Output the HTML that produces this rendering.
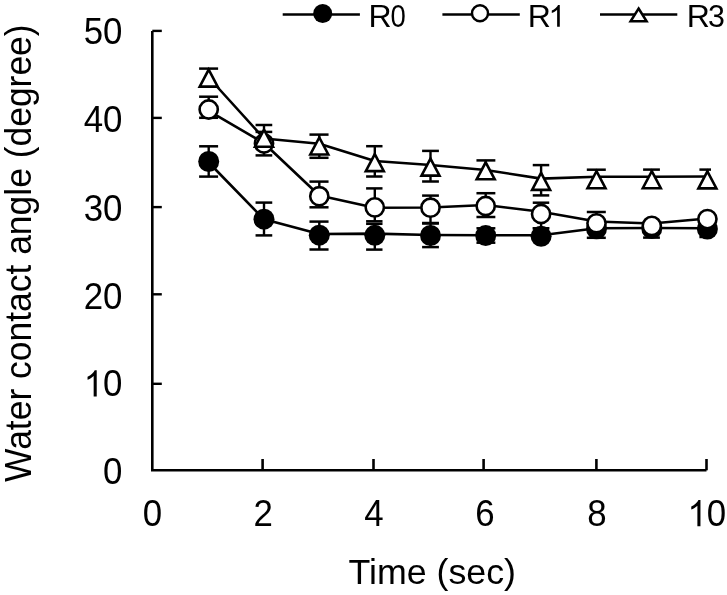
<!DOCTYPE html>
<html><head><meta charset="utf-8"><style>
html,body{margin:0;padding:0;background:#fff;width:727px;height:595px;overflow:hidden}
svg{display:block;will-change:transform}
text{font-family:"Liberation Sans",sans-serif;fill:#000}
</style></head><body>
<svg width="727" height="595" viewBox="0 0 727 595">
<g>
<text transform="translate(83.74 44.4) scale(0.9550 1)" font-size="36.5">5</text>
<text transform="translate(103.12 44.4) scale(0.9550 1)" font-size="36.5">0</text>
<text transform="translate(83.74 132.2) scale(0.9550 1)" font-size="36.5">4</text>
<text transform="translate(103.12 132.2) scale(0.9550 1)" font-size="36.5">0</text>
<text transform="translate(83.74 220.6) scale(0.9550 1)" font-size="36.5">3</text>
<text transform="translate(103.12 220.6) scale(0.9550 1)" font-size="36.5">0</text>
<text transform="translate(83.74 308.5) scale(0.9550 1)" font-size="36.5">2</text>
<text transform="translate(103.12 308.5) scale(0.9550 1)" font-size="36.5">0</text>
<path transform="translate(83.74 396.4) scale(0.017020 -0.017822)" d="M763 0L583 0L583 1147C540 1106 483 1065 413 1024C342 983 279 952 223 931L223 1105C324 1152 412 1210 487 1277C562 1344 615 1409 646 1472L763 1472Z"/>
<text transform="translate(103.12 396.4) scale(0.9550 1)" font-size="36.5">0</text>
<text transform="translate(103.12 483.6) scale(0.9550 1)" font-size="36.5">0</text>
<text transform="translate(142.81 526.2) scale(0.9550 1)" font-size="36.5">0</text>
<text transform="translate(253.51 526.2) scale(0.9550 1)" font-size="36.5">2</text>
<text transform="translate(364.21 526.2) scale(0.9550 1)" font-size="36.5">4</text>
<text transform="translate(475.36 526.2) scale(0.9550 1)" font-size="36.5">6</text>
<text transform="translate(587.31 526.2) scale(0.9550 1)" font-size="36.5">8</text>
<path transform="translate(687.47 526.2) scale(0.017020 -0.017822)" d="M763 0L583 0L583 1147C540 1106 483 1065 413 1024C342 983 279 952 223 931L223 1105C324 1152 412 1210 487 1277C562 1344 615 1409 646 1472L763 1472Z"/>
<text transform="translate(706.85 526.2) scale(0.9550 1)" font-size="36.5">0</text>
</g>
<text x="348.5" y="584.1" font-size="35.75">Time (sec)</text>
<text transform="translate(30.6,482) rotate(-90) scale(0.971 1)" font-size="36.5">Water contact angle (degree)</text>

<line x1="282.7" y1="14.5" x2="359.9" y2="14.5" stroke="#000" stroke-width="2.6"/>
<circle cx="322.7" cy="13.5" r="9.5" fill="#000"/>
<text x="368.4" y="26.8" font-size="32">R</text>
<text transform="translate(390.5 26.8) scale(0.8600 1)" font-size="32">0</text>
<line x1="442.4" y1="14.5" x2="519.8" y2="14.5" stroke="#000" stroke-width="2.6"/>
<circle cx="480" cy="13.3" r="8.0" fill="#fff" stroke="#000" stroke-width="2.4"/>
<text x="527.7" y="26.8" font-size="32">R</text>
<path transform="translate(548.5 26.8) scale(0.014795 -0.014795)" d="M763 0L583 0L583 1147C540 1106 483 1065 413 1024C342 983 279 952 223 931L223 1105C324 1152 412 1210 487 1277C562 1344 615 1409 646 1472L763 1472Z"/>
<line x1="600" y1="14.5" x2="677.3" y2="14.5" stroke="#000" stroke-width="2.6"/>
<path d="M638.6 8.5L646.6 21.3L630.6 21.3Z" fill="#fff" stroke="#000" stroke-width="2.5" stroke-linejoin="miter"/>
<text x="686.7" y="26.8" font-size="32">R</text>
<text transform="translate(708 26.8) scale(0.9500 1)" font-size="32">3</text>

<path d="M152.3 30.9V470.3H706.5" fill="none" stroke="#000" stroke-width="2.6" stroke-linejoin="miter"/>
<line x1="152.3" y1="30.9" x2="161.8" y2="30.9" stroke="#000" stroke-width="2.4"/>
<line x1="152.3" y1="117.9" x2="161.8" y2="117.9" stroke="#000" stroke-width="2.4"/>
<line x1="152.3" y1="207.1" x2="161.8" y2="207.1" stroke="#000" stroke-width="2.4"/>
<line x1="152.3" y1="294.3" x2="161.8" y2="294.3" stroke="#000" stroke-width="2.4"/>
<line x1="152.3" y1="383.8" x2="161.8" y2="383.8" stroke="#000" stroke-width="2.4"/>
<line x1="262.6" y1="470.3" x2="262.6" y2="459" stroke="#000" stroke-width="2.6"/>
<line x1="373.5" y1="470.3" x2="373.5" y2="459" stroke="#000" stroke-width="2.6"/>
<line x1="483.6" y1="470.3" x2="483.6" y2="459" stroke="#000" stroke-width="2.6"/>
<line x1="596.4" y1="470.3" x2="596.4" y2="459" stroke="#000" stroke-width="2.6"/>
<line x1="706.5" y1="470.3" x2="706.5" y2="459" stroke="#000" stroke-width="2.6"/>
<polyline points="208.7,162.5 264,219.3 319.3,234 374.8,233.6 430.5,235 485.7,235.3 541.1,235.2 596.5,228.3 651.8,228 707.4,228.3" fill="none" stroke="#000" stroke-width="2.6" stroke-linejoin="round"/>
<line x1="208.7" y1="146.3" x2="208.7" y2="176.6" stroke="#000" stroke-width="2.4"/>
<line x1="199.1" y1="146.3" x2="218.1" y2="146.3" stroke="#000" stroke-width="2.5"/>
<line x1="199.1" y1="176.6" x2="218.1" y2="176.6" stroke="#000" stroke-width="2.5"/>
<line x1="264" y1="202.6" x2="264" y2="235.4" stroke="#000" stroke-width="2.4"/>
<line x1="255.55" y1="202.6" x2="272.25" y2="202.6" stroke="#000" stroke-width="2.5"/>
<line x1="255.55" y1="235.4" x2="272.25" y2="235.4" stroke="#000" stroke-width="2.5"/>
<line x1="319.3" y1="221.6" x2="319.3" y2="249.5" stroke="#000" stroke-width="2.4"/>
<line x1="309.45" y1="221.6" x2="328.55" y2="221.6" stroke="#000" stroke-width="2.5"/>
<line x1="309.45" y1="249.5" x2="328.55" y2="249.5" stroke="#000" stroke-width="2.5"/>
<line x1="374.8" y1="223.8" x2="374.8" y2="249.6" stroke="#000" stroke-width="2.4"/>
<line x1="366.1" y1="223.8" x2="382.5" y2="223.8" stroke="#000" stroke-width="2.5"/>
<line x1="366.1" y1="249.6" x2="382.5" y2="249.6" stroke="#000" stroke-width="2.5"/>
<line x1="430.5" y1="223.5" x2="430.5" y2="247.1" stroke="#000" stroke-width="2.4"/>
<line x1="422.1" y1="223.5" x2="438.9" y2="223.5" stroke="#000" stroke-width="2.5"/>
<line x1="422.1" y1="247.1" x2="438.9" y2="247.1" stroke="#000" stroke-width="2.5"/>
<line x1="485.7" y1="228.3" x2="485.7" y2="242.7" stroke="#000" stroke-width="2.4"/>
<line x1="476.45" y1="228.3" x2="495.35" y2="228.3" stroke="#000" stroke-width="2.5"/>
<line x1="476.45" y1="242.7" x2="495.35" y2="242.7" stroke="#000" stroke-width="2.5"/>
<line x1="541.1" y1="228.3" x2="541.1" y2="236.3" stroke="#000" stroke-width="2.4"/>
<line x1="532.75" y1="228.3" x2="549.25" y2="228.3" stroke="#000" stroke-width="2.5"/>
<line x1="596.5" y1="228.8" x2="596.5" y2="237.8" stroke="#000" stroke-width="2.4"/>
<line x1="586.8" y1="237.8" x2="605.8" y2="237.8" stroke="#000" stroke-width="2.5"/>
<line x1="651.8" y1="228.5" x2="651.8" y2="237.6" stroke="#000" stroke-width="2.4"/>
<line x1="643.1" y1="237.6" x2="659.9" y2="237.6" stroke="#000" stroke-width="2.5"/>
<line x1="707.4" y1="229" x2="707.4" y2="237" stroke="#000" stroke-width="2.4"/>
<line x1="699.4" y1="237" x2="711" y2="237" stroke="#000" stroke-width="2.5"/>
<circle cx="208.7" cy="161.5" r="10.5" fill="#000"/>
<circle cx="264" cy="219.2" r="10.5" fill="#000"/>
<circle cx="319.3" cy="235.2" r="10.5" fill="#000"/>
<circle cx="374.8" cy="235.3" r="10.5" fill="#000"/>
<circle cx="430.5" cy="235.5" r="10.5" fill="#000"/>
<circle cx="485.7" cy="235.6" r="10.5" fill="#000"/>
<circle cx="541.1" cy="236.3" r="10.5" fill="#000"/>
<circle cx="596.5" cy="228.8" r="10.5" fill="#000"/>
<circle cx="651.8" cy="228.5" r="10.5" fill="#000"/>
<circle cx="707.4" cy="229" r="10.5" fill="#000"/>
<polyline points="208.7,110.9 264,143.2 319.3,195.5 374.8,207.8 430.5,207.5 485.7,205 541.1,211.8 596.5,221.5 651.8,223.5 707.4,218.5" fill="none" stroke="#000" stroke-width="2.6" stroke-linejoin="round"/>
<line x1="208.7" y1="96.7" x2="208.7" y2="117.8" stroke="#000" stroke-width="2.4"/>
<line x1="199.1" y1="96.7" x2="218.1" y2="96.7" stroke="#000" stroke-width="2.5"/>
<line x1="199.1" y1="117.8" x2="218.1" y2="117.8" stroke="#000" stroke-width="2.5"/>
<line x1="264" y1="131.9" x2="264" y2="155.4" stroke="#000" stroke-width="2.4"/>
<line x1="255.55" y1="131.9" x2="272.25" y2="131.9" stroke="#000" stroke-width="2.5"/>
<line x1="255.55" y1="155.4" x2="272.25" y2="155.4" stroke="#000" stroke-width="2.5"/>
<line x1="319.3" y1="181.6" x2="319.3" y2="207.3" stroke="#000" stroke-width="2.4"/>
<line x1="309.45" y1="181.6" x2="328.55" y2="181.6" stroke="#000" stroke-width="2.5"/>
<line x1="309.45" y1="207.3" x2="328.55" y2="207.3" stroke="#000" stroke-width="2.5"/>
<line x1="374.8" y1="188.4" x2="374.8" y2="221.3" stroke="#000" stroke-width="2.4"/>
<line x1="366.1" y1="188.4" x2="382.5" y2="188.4" stroke="#000" stroke-width="2.5"/>
<line x1="366.1" y1="221.3" x2="382.5" y2="221.3" stroke="#000" stroke-width="2.5"/>
<line x1="430.5" y1="195.6" x2="430.5" y2="223" stroke="#000" stroke-width="2.4"/>
<line x1="422.1" y1="195.6" x2="438.9" y2="195.6" stroke="#000" stroke-width="2.5"/>
<line x1="422.1" y1="223" x2="438.9" y2="223" stroke="#000" stroke-width="2.5"/>
<line x1="485.7" y1="193.2" x2="485.7" y2="217" stroke="#000" stroke-width="2.4"/>
<line x1="476.45" y1="193.2" x2="495.35" y2="193.2" stroke="#000" stroke-width="2.5"/>
<line x1="476.45" y1="217" x2="495.35" y2="217" stroke="#000" stroke-width="2.5"/>
<line x1="541.1" y1="202.7" x2="541.1" y2="228.3" stroke="#000" stroke-width="2.4"/>
<line x1="532.75" y1="202.7" x2="549.25" y2="202.7" stroke="#000" stroke-width="2.5"/>
<line x1="532.75" y1="228.3" x2="549.25" y2="228.3" stroke="#000" stroke-width="2.5"/>
<line x1="596.5" y1="212" x2="596.5" y2="223.3" stroke="#000" stroke-width="2.4"/>
<line x1="586.8" y1="212" x2="605.8" y2="212" stroke="#000" stroke-width="2.5"/>
<circle cx="208.7" cy="109.5" r="9.1" fill="#fff" stroke="#000" stroke-width="2.6"/>
<circle cx="264" cy="143.5" r="9.1" fill="#fff" stroke="#000" stroke-width="2.6"/>
<circle cx="319.3" cy="196.2" r="9.1" fill="#fff" stroke="#000" stroke-width="2.6"/>
<circle cx="374.8" cy="207.4" r="9.1" fill="#fff" stroke="#000" stroke-width="2.6"/>
<circle cx="430.5" cy="207.7" r="9.1" fill="#fff" stroke="#000" stroke-width="2.6"/>
<circle cx="485.7" cy="206" r="9.1" fill="#fff" stroke="#000" stroke-width="2.6"/>
<circle cx="541.1" cy="214" r="9.1" fill="#fff" stroke="#000" stroke-width="2.6"/>
<circle cx="596.5" cy="223.3" r="9.1" fill="#fff" stroke="#000" stroke-width="2.6"/>
<circle cx="651.8" cy="225.9" r="9.1" fill="#fff" stroke="#000" stroke-width="2.6"/>
<circle cx="707.4" cy="219.1" r="9.1" fill="#fff" stroke="#000" stroke-width="2.6"/>
<polyline points="208.7,77.5 264,138.5 319.3,143.8 374.8,161 430.5,165 485.7,170 541.1,178.6 596.5,176.8 651.8,176.7 707.4,176.5" fill="none" stroke="#000" stroke-width="2.6" stroke-linejoin="round"/>
<line x1="208.7" y1="68.6" x2="208.7" y2="78.1" stroke="#000" stroke-width="2.4"/>
<line x1="199.1" y1="68.6" x2="218.1" y2="68.6" stroke="#000" stroke-width="2.5"/>
<line x1="264" y1="125" x2="264" y2="138.2" stroke="#000" stroke-width="2.4"/>
<line x1="255.55" y1="125" x2="272.25" y2="125" stroke="#000" stroke-width="2.5"/>
<line x1="319.3" y1="134.6" x2="319.3" y2="157.8" stroke="#000" stroke-width="2.4"/>
<line x1="309.45" y1="134.6" x2="328.55" y2="134.6" stroke="#000" stroke-width="2.5"/>
<line x1="309.45" y1="157.8" x2="328.55" y2="157.8" stroke="#000" stroke-width="2.5"/>
<line x1="374.8" y1="146.2" x2="374.8" y2="176.5" stroke="#000" stroke-width="2.4"/>
<line x1="366.1" y1="146.2" x2="382.5" y2="146.2" stroke="#000" stroke-width="2.5"/>
<line x1="366.1" y1="176.5" x2="382.5" y2="176.5" stroke="#000" stroke-width="2.5"/>
<line x1="430.5" y1="150.9" x2="430.5" y2="181.5" stroke="#000" stroke-width="2.4"/>
<line x1="422.1" y1="150.9" x2="438.9" y2="150.9" stroke="#000" stroke-width="2.5"/>
<line x1="422.1" y1="181.5" x2="438.9" y2="181.5" stroke="#000" stroke-width="2.5"/>
<line x1="485.7" y1="160.4" x2="485.7" y2="170.8" stroke="#000" stroke-width="2.4"/>
<line x1="476.45" y1="160.4" x2="495.35" y2="160.4" stroke="#000" stroke-width="2.5"/>
<line x1="541.1" y1="165.1" x2="541.1" y2="195.4" stroke="#000" stroke-width="2.4"/>
<line x1="532.75" y1="165.1" x2="549.25" y2="165.1" stroke="#000" stroke-width="2.5"/>
<line x1="532.75" y1="195.4" x2="549.25" y2="195.4" stroke="#000" stroke-width="2.5"/>
<line x1="596.5" y1="169.7" x2="596.5" y2="179.7" stroke="#000" stroke-width="2.4"/>
<line x1="586.8" y1="169.7" x2="605.8" y2="169.7" stroke="#000" stroke-width="2.5"/>
<line x1="651.8" y1="169.6" x2="651.8" y2="179.7" stroke="#000" stroke-width="2.4"/>
<line x1="643.1" y1="169.6" x2="659.9" y2="169.6" stroke="#000" stroke-width="2.5"/>
<line x1="707.4" y1="169.6" x2="707.4" y2="179.9" stroke="#000" stroke-width="2.4"/>
<line x1="699.4" y1="169.6" x2="711" y2="169.6" stroke="#000" stroke-width="2.5"/>
<path d="M208.7 69.6L217.7 86.6L199.7 86.6Z" fill="#fff" stroke="#000" stroke-width="2.6" stroke-linejoin="miter"/>
<path d="M264 129.7L273 146.7L255 146.7Z" fill="#fff" stroke="#000" stroke-width="2.6" stroke-linejoin="miter"/>
<path d="M319.3 137.5L328.3 154.5L310.3 154.5Z" fill="#fff" stroke="#000" stroke-width="2.6" stroke-linejoin="miter"/>
<path d="M374.8 154.1L383.8 171.1L365.8 171.1Z" fill="#fff" stroke="#000" stroke-width="2.6" stroke-linejoin="miter"/>
<path d="M430.5 158.6L439.5 175.6L421.5 175.6Z" fill="#fff" stroke="#000" stroke-width="2.6" stroke-linejoin="miter"/>
<path d="M485.7 162.3L494.7 179.3L476.7 179.3Z" fill="#fff" stroke="#000" stroke-width="2.6" stroke-linejoin="miter"/>
<path d="M541.1 172.9L550.1 189.9L532.1 189.9Z" fill="#fff" stroke="#000" stroke-width="2.6" stroke-linejoin="miter"/>
<path d="M596.5 171.2L605.5 188.2L587.5 188.2Z" fill="#fff" stroke="#000" stroke-width="2.6" stroke-linejoin="miter"/>
<path d="M651.8 171.2L660.8 188.2L642.8 188.2Z" fill="#fff" stroke="#000" stroke-width="2.6" stroke-linejoin="miter"/>
<path d="M707.4 171.4L716.4 188.4L698.4 188.4Z" fill="#fff" stroke="#000" stroke-width="2.6" stroke-linejoin="miter"/>
</svg>
</body></html>
